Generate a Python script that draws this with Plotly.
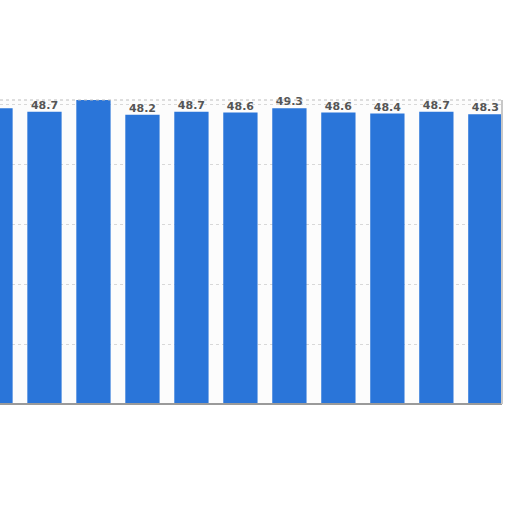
import plotly.graph_objects as go

categories = ["C1", "C2", "C3", "C4", "C5", "C6", "C7", "C8", "C9", "C10", "C11"]
values = [49.3, 48.7, 51.0, 48.2, 48.7, 48.6, 49.3, 48.6, 48.4, 48.7, 48.3]

y_max = 50.67
labels = [f"{v:.1f}" if v <= y_max else "" for v in values]
xs = list(range(len(categories)))

fig = go.Figure()
fig.add_trace(go.Bar(
    x=xs, y=values, marker=dict(color="#2a75d9", line=dict(width=0)),
    cliponaxis=True, hoverinfo="skip",
))
fig.add_trace(go.Scatter(
    x=xs, y=values, mode="text", text=labels, textposition="top center",
    textfont=dict(family="DejaVu Sans", size=11, color="#555555"),
    cliponaxis=False, hoverinfo="skip",
))
fig.update_traces(selector=dict(type="scatter"), texttemplate="<b>%{text}</b>")

fig.update_layout(
    width=512, height=512,
    margin=dict(l=0, r=10, t=100, b=108),
    paper_bgcolor="white", plot_bgcolor="#fcfcfc",
    showlegend=False, bargap=0.3,
    xaxis=dict(range=[0.092, 10.34], showticklabels=False, showgrid=False,
               zeroline=False, ticks=""),
    yaxis=dict(range=[0, y_max], dtick=10, showticklabels=False,
               gridcolor="#d8d8d8", griddash="dot", gridwidth=1,
               zeroline=False, ticks=""),
    shapes=[
        dict(type="line", xref="paper", yref="paper", x0=0, x1=1, y0=0, y1=0,
             line=dict(color="#9a9a9a", width=2)),
        dict(type="line", xref="paper", yref="paper", x0=1, x1=1, y0=0, y1=1,
             line=dict(color="#c8c8c8", width=2)),
        dict(type="line", xref="paper", yref="paper", x0=0, x1=1, y0=1, y1=1,
             line=dict(color="#bdbdbd", width=1, dash="dot")),
    ],
)
fig.write_html("out.html", config={"displayModeBar": False},
               post_script="document.body.style.margin='0';document.body.style.overflow='hidden';")
